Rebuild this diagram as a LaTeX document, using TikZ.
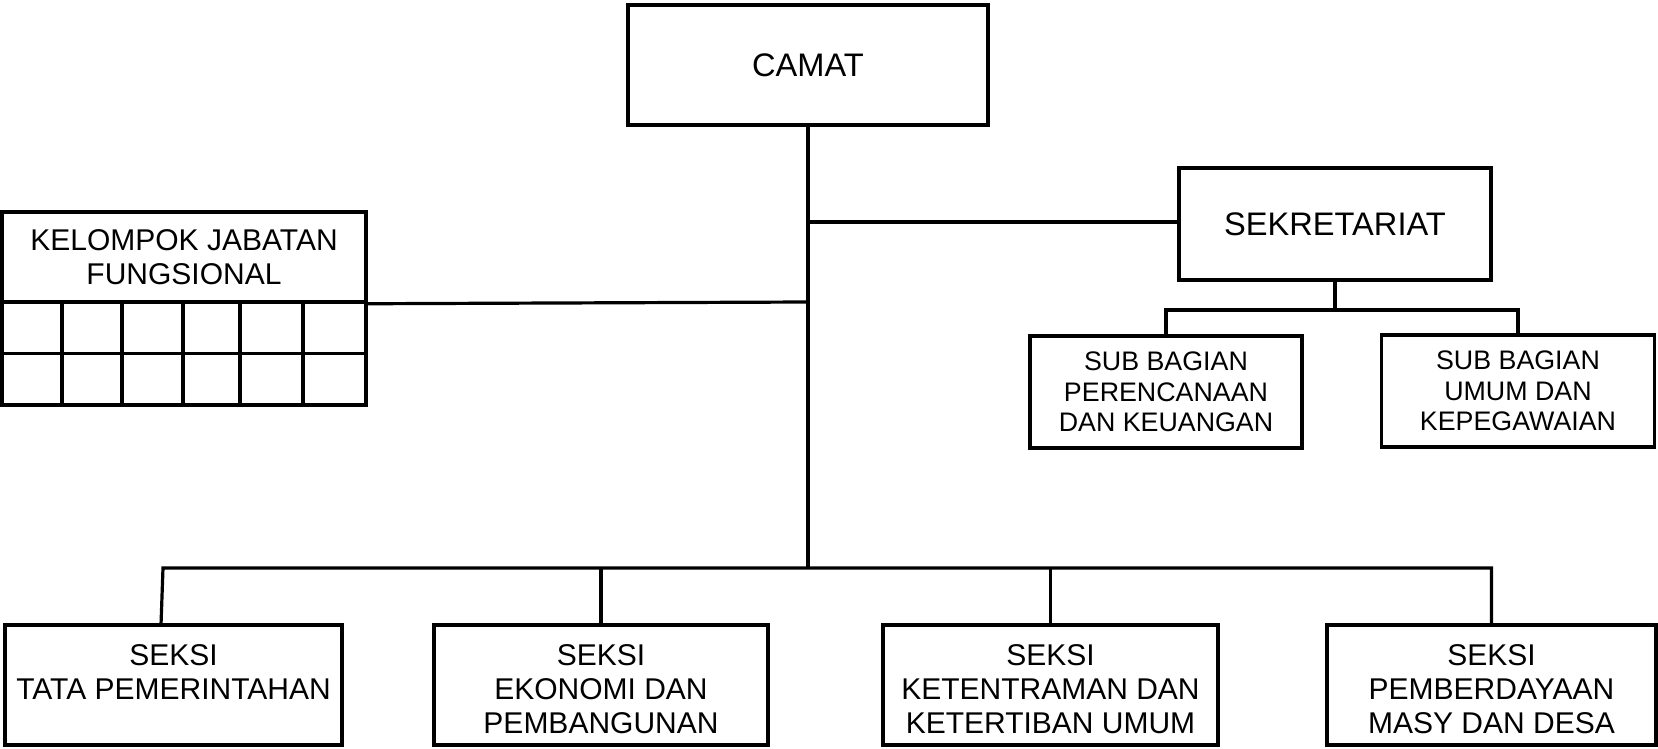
\documentclass[tikz,border=0pt]{standalone}
\usepackage{fontspec}
\setmainfont{Liberation Sans}
\begin{document}
\begin{tikzpicture}[x=1pt,y=-1pt,
  box/.style={draw, line width=3.5pt, inner sep=0pt, align=center},
  conn/.style={line width=3.2pt},
  big/.style={font=\fontsize{32.6}{37}\selectfont},
  mid/.style={font=\fontsize{30}{34}\selectfont},
  small/.style={font=\fontsize{26.8}{30.5}\selectfont}]
\useasboundingbox (0,0) rectangle (1658,749);
% top
\node[box,big,minimum width=360pt,minimum height=120pt] (camat) at (808,65) {CAMAT};
\node[box,big,minimum width=312pt,minimum height=112pt] (sek) at (1335,224) {SEKRETARIAT};
\node[box,small,minimum width=272pt,minimum height=112pt] (sub1) at (1166,392) {SUB BAGIAN\\PERENCANAAN\\DAN KEUANGAN};
\node[box,small,minimum width=273pt,minimum height=112pt] (sub2) at (1518,391) {SUB BAGIAN\\UMUM DAN\\KEPEGAWAIAN};
% kelompok
\node[box,mid,minimum width=364pt,minimum height=90pt] (kjf) at (184,257) {KELOMPOK JABATAN\\FUNGSIONAL};
\node[box,minimum width=364pt,minimum height=103pt] (grid) at (184,353.5) {};
\foreach \gx in {62,122,183,240,303}
  \draw[line width=3.5pt] (\gx,302) -- (\gx,405);
\draw[line width=3.5pt] (grid.west) -- (grid.east);
% bottom
\node[box,mid,minimum width=337pt,minimum height=120pt] (b1) at (173.5,685) {\rule{0pt}{29pt}SEKSI\\TATA PEMERINTAHAN\\\phantom{X}};
\node[box,mid,minimum width=334pt,minimum height=120pt] (b2) at (601,685) {\rule{0pt}{29pt}SEKSI\\EKONOMI DAN\\PEMBANGUNAN};
\node[box,mid,minimum width=335pt,minimum height=120pt] (b3) at (1050.5,685) {\rule{0pt}{29pt}SEKSI\\KETENTRAMAN DAN\\KETERTIBAN UMUM};
\node[box,mid,minimum width=329pt,minimum height=120pt] (b4) at (1491.5,685) {\rule{0pt}{29pt}SEKSI\\PEMBERDAYAAN\\MASY DAN DESA};
% connectors
\coordinate (tBus) at (808,568);
\coordinate (tSek) at (808,222);
\coordinate (tKjf) at (808,302);
\coordinate (busL) at (163,568);
\coordinate (b1top) at (161,625);
\coordinate (subBus) at (1335,310);
\draw[conn] (camat.south) -- (tBus);
\draw[conn] (tSek) -- (sek.west |- tSek);
\draw[conn] (kjf.south east) -- (tKjf);
\draw[conn] (b1top) -- (busL) -- (b4.north |- busL) -- (b4.north);
\draw[conn] (b2.north) -- (b2.north |- busL);
\draw[conn] (b3.north) -- (b3.north |- busL);
\draw[conn] (sek.south) -- (subBus);
\draw[conn] (sub1.north) -- (sub1.north |- subBus) -- (sub2.north |- subBus) -- (sub2.north);
\end{tikzpicture}
\end{document}
